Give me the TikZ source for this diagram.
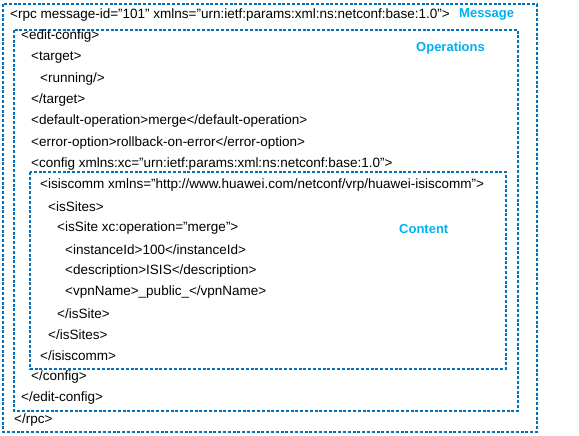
\documentclass[tikz,border=0pt]{standalone}
\usepackage{fontspec}
\setmainfont{Liberation Sans}
\usepackage{tikz}
\definecolor{boxblue}{RGB}{0,112,192}
\definecolor{tagblue}{RGB}{0,176,240}
\tikzset{
  every xml line/.style={anchor=west,inner sep=0pt,font=\fontsize{13.5}{16}\selectfont},
  every box/.style={draw=boxblue,line width=1.5pt,dash pattern=on 3pt off 1.8pt},
  every tag/.style={anchor=west,inner sep=0pt,text=tagblue,font=\fontsize{13}{16}\selectfont\bfseries},
}

\begin{document}
\begin{tikzpicture}[x=1pt,y=-1pt]
\useasboundingbox (0,0) rectangle (579,436);
\draw[every box] (3,4) rectangle (537,432);
\draw[every box] (14,30) rectangle (518,411);
\draw[every box] (30,172) rectangle (506,369);
\foreach \ind/\txt [count=\i] in {
  10/{<rpc message-id="101" xmlns="urn:ietf:params:xml:ns:netconf:base:1.0">},
  21/{<edit-config>},
  31/{<target>},
  40/{<running/>},
  31/{</target>},
  31/{<default-operation>merge</default-operation>},
  31/{<error-option>rollback-on-error</error-option>},
  31/{<config xmlns:xc="urn:ietf:params:xml:ns:netconf:base:1.0">},
  40/{<isiscomm xmlns="http://www.huawei.com/netconf/vrp/huawei-isiscomm">},
  48/{<isSites>},
  57/{<isSite xc:operation="merge">},
  65/{<instanceId>100</instanceId>},
  65/{<description>ISIS</description>},
  65/{<vpnName>\_public\_</vpnName>},
  57/{</isSite>},
  48/{</isSites>},
  40/{</isiscomm>},
  31/{</config>},
  21/{</edit-config>},
  14/{</rpc>}}
  \node[every xml line] (line\i) at (\ind,{15+21.3*(\i-1)}) {\txt};
\node[every tag] (message) at (459,14) {Message};
\node[every tag] (operations) at (416,48) {Operations};
\node[every tag] (content) at (399,229) {Content};
\end{tikzpicture}
\end{document}
